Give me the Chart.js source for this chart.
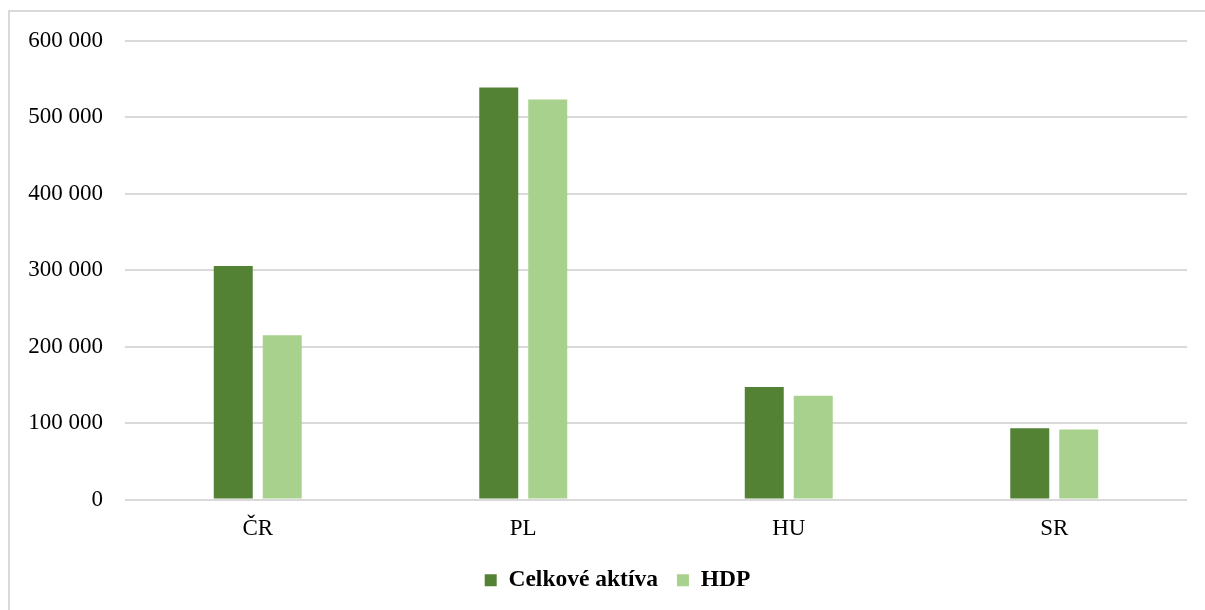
<!DOCTYPE html>
<html>
<head>
<meta charset="utf-8">
<script src="https://cdn.jsdelivr.net/npm/chart.js@4/dist/chart.umd.min.js"></script>
<style>
  html, body { margin: 0; padding: 0; background: #ffffff; }
  #wrap { position: relative; width: 1205px; height: 610px; }
</style>
</head>
<body>
<div id="wrap"><canvas id="chart"></canvas></div>
<script>
// Krajiny, hodnoty v mil. EUR
const categories = ['ČR', 'PL', 'HU', 'SR'];
const celkoveAktiva = [305600, 539300, 147100, 93400];
const hdp = [214900, 523600, 135800, 91700];
const yTicks = [0, 100000, 200000, 300000, 400000, 500000, 600000];

const seriesNames = ['Celkové aktíva', 'HDP'];
const seriesColors = ['#548235', '#A9D18E'];

const serif = '"Liberation Serif", "Times New Roman", serif';

// Tenký sivý rámček okolo grafu
const framePlugin = {
  id: 'frame',
  beforeDraw(chart) {
    const ctx = chart.ctx;
    ctx.save();
    ctx.strokeStyle = '#d9d9d9';
    ctx.lineWidth = 2;
    ctx.beginPath();
    ctx.moveTo(9, chart.height);
    ctx.lineTo(9, 11);
    ctx.lineTo(chart.width, 11);
    ctx.stroke();
    ctx.restore();
  }
};

// Legenda je mierne posunutá doprava
const legendShift = {
  id: 'legendShift',
  afterLayout(chart) {
    const lg = chart.legend;
    if (lg) { lg.left += 24; lg.right += 24; }
  }
};

const fmt = v => String(v).replace(/\B(?=(\d{3})+(?!\d))/g, ' ');

new Chart(document.getElementById('chart'), {
  type: 'bar',
  data: {
    labels: categories,
    datasets: [
      { label: seriesNames[0], data: celkoveAktiva, backgroundColor: seriesColors[0] },
      { label: seriesNames[1], data: hdp, backgroundColor: seriesColors[1] }
    ]
  },
  options: {
    responsive: true,
    maintainAspectRatio: false,
    animation: false,
    datasets: {
      bar: { categoryPercentage: 0.369, barPercentage: 0.796 }
    },
    layout: { padding: { left: 0, right: 18, top: 41, bottom: 8 } },
    scales: {
      x: {
        grid: { display: false, drawTicks: false },
        border: { display: false },
        ticks: { color: '#000', font: { family: serif, size: 23 }, padding: 16 },
        afterFit(s) { s.height = 50; }
      },
      y: {
        min: 0,
        max: 600000,
        afterBuildTicks(s) { s.ticks = yTicks.map(v => ({ value: v })); },
        grid: { color: '#d9d9d9', lineWidth: 2, drawTicks: false },
        border: { display: false },
        ticks: {
          color: '#000',
          font: { family: serif, size: 23 },
          padding: 22,
          callback: v => fmt(v)
        },
        afterFit(s) { s.width = 125; }
      }
    },
    plugins: {
      legend: {
        position: 'bottom',
        labels: {
          color: '#000',
          font: { family: serif, size: 23.5, weight: 'bold' },
          boxWidth: 12,
          boxHeight: 12,
          padding: 19
        }
      },
      tooltip: { enabled: false }
    }
  },
  plugins: [framePlugin, legendShift]
});
</script>
</body>
</html>
